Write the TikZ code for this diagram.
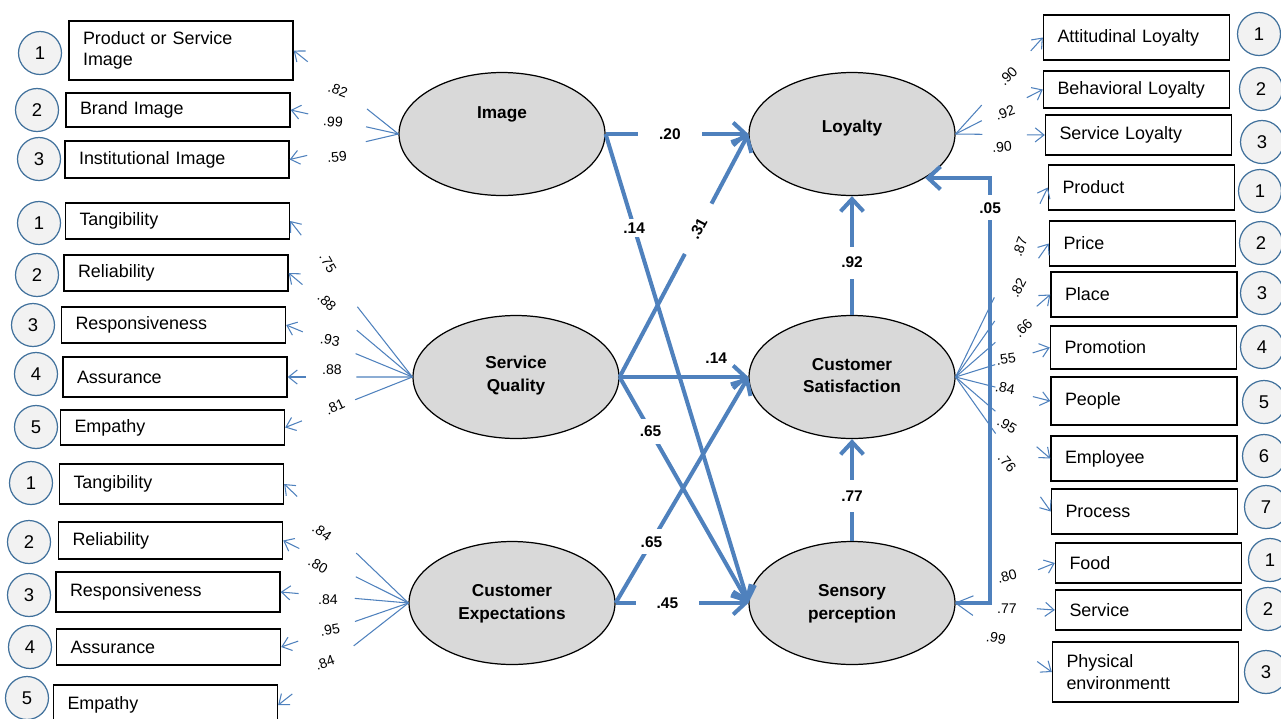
\documentclass[tikz,border=0pt]{standalone}
\usepackage{fontspec}
\setmainfont{Liberation Sans}
\usetikzlibrary{shapes.geometric,arrows.meta,calc}

\definecolor{lineblue}{HTML}{4F81BD}
\definecolor{circblue}{HTML}{41719C}
\definecolor{circgray}{HTML}{F2F2F2}
\definecolor{latgray}{HTML}{D9D9D9}

% testo dei latenti, alzato di #1
\newcommand{\latlabel}[2]{\raisebox{#1}{\begin{tabular}{@{}c@{}}#2\end{tabular}}}

\tikzset{
	lat/.style={ellipse, draw=black, fill=latgray, line width=0.7pt,
		minimum width=4.12cm, minimum height=2.46cm, align=center,
		font=\bfseries\fontsize{9.8}{13}\selectfont},
	indl/.style={draw=black, line width=0.8pt, minimum width=4.48cm,
		text width=3.92cm, inner xsep=0.28cm, align=left,
		font=\fontsize{10.2}{12.2}\selectfont},
	indr/.style={indl, minimum width=3.72cm, text width=3.16cm},
	err/.style={circle, draw=circblue, fill=circgray, line width=0.7pt,
		minimum size=0.86cm, inner sep=0pt, font=\fontsize{10.5}{12}\selectfont},
	load/.style={draw=lineblue, line width=0.6pt},
	loadarr/.style={load, -{Straight Barb[length=5pt,width=8pt]}},
	struct/.style={draw=lineblue, line width=2.3pt,
		-{Straight Barb[length=7pt,width=13pt]}},
	coef/.style={fill=white, inner sep=4pt, font=\bfseries\fontsize{8.8}{10}\selectfont},
	ld/.style={inner sep=0.5pt, font=\fontsize{8}{9}\selectfont}
}

\begin{document}
\begin{tikzpicture}[x=0.02cm,y=-0.02cm]
	\useasboundingbox (0,0) rectangle (1281,718);

	%latenti
	\node[lat] (img) at (502,134) {\latlabel{0.96cm}{Image}};
	\node[lat] (loy) at (852,134) {\latlabel{0.4cm}{Loyalty}};
	\node[lat] (sq) at (516,377) {\latlabel{0.44cm}{Service\\Quality}};
	\node[lat] (cs) at (852,377) {\latlabel{0.32cm}{Customer\\Satisfaction}};
	\node[lat] (ce) at (512,603) {\latlabel{0.08cm}{Customer\\Expectations}};
	\node[lat] (sp) at (852,603) {\latlabel{0.28cm}{Sensory\\perception}};

	%indicatori image
	\node[indl, minimum height=1.18cm] (i1) at (181,50.5) {Product or Service\\Image};
	\node[indl, minimum height=0.68cm] (i2) at (178,110) {Brand Image};
	\node[indl, minimum height=0.74cm] (i3) at (177,159.5) {Institutional Image};
	\node[err] (ci1) at (40,53) {1};
	\node[err] (ci2) at (37,110) {2};
	\node[err] (ci3) at (39,159) {3};

	%indicatori service quality
	\node[indl, minimum height=0.72cm] (s1) at (177.5,221) {Tangibility};
	\node[indl, minimum height=0.72cm] (s2) at (176,273) {Reliability};
	\node[indl, minimum height=0.72cm] (s3) at (173.5,325) {Responsiveness};
	\node[indl, minimum height=0.80cm] (s4) at (175,377) {Assurance};
	\node[indl, minimum height=0.70cm] (s5) at (172.5,427.5) {Empathy};
	\node[err] (cs1) at (39,223) {1};
	\node[err] (cs2) at (37,275) {2};
	\node[err] (cs3) at (33,325) {3};
	\node[err] (cs4) at (36,374) {4};
	\node[err] (cs5) at (36,427) {5};

	%indicatori customer expectations
	\node[indl, minimum height=0.80cm] (e1) at (171.5,484) {Tangibility};
	\node[indl, minimum height=0.74cm] (e2) at (170.5,540.5) {Reliability};
	\node[indl, minimum height=0.80cm] (e3) at (168,592) {Responsiveness};
	\node[indl, minimum height=0.72cm] (e4) at (168.5,647) {Assurance};
	\node[indl, minimum height=0.80cm] (e5) at (165.5,705) {Empathy};
	\node[err] (ce1) at (31,483) {1};
	\node[err] (ce2) at (29,542) {2};
	\node[err] (ce3) at (29,595) {3};
	\node[err] (ce4) at (30,647) {4};
	\node[err] (ce5) at (27,698) {5};

	%indicatori loyalty
	\node[indr, minimum height=0.90cm] (l1) at (1136.5,37.5) {Attitudinal Loyalty};
	\node[indr, minimum height=0.74cm] (l2) at (1136.5,89.5) {Behavioral Loyalty};
	\node[indr, minimum height=0.80cm] (l3) at (1138.5,135) {Service Loyalty};
	\node[err] (cl1) at (1259,34) {1};
	\node[err] (cl2) at (1261,89) {2};
	\node[err] (cl3) at (1262,142) {3};

	%indicatori customer satisfaction
	\node[indr, minimum height=0.90cm] (m1) at (1141.5,187.5) {Product};
	\node[indr, minimum height=0.90cm] (m2) at (1142.5,243.5) {Price};
	\node[indr, minimum height=0.90cm] (m3) at (1144,294.5) {Place};
	\node[indr, minimum height=0.86cm] (m4) at (1143.5,347.5) {Promotion};
	\node[indr, minimum height=0.96cm] (m5) at (1144,401) {People};
	\node[indr, minimum height=0.90cm] (m6) at (1144,458.5) {Employee};
	\node[indr, minimum height=0.90cm] (m7) at (1144.5,511.5) {Process};
	\node[err] (cm1) at (1260,191) {1};
	\node[err] (cm2) at (1261,243) {2};
	\node[err] (cm3) at (1262,293) {3};
	\node[err] (cm4) at (1262,347) {4};
	\node[err] (cm5) at (1264,402) {5};
	\node[err] (cm6) at (1264,456) {6};
	\node[err] (cm7) at (1266,507) {7};

	%indicatori sensory perception
	\node[indr, minimum height=0.80cm] (p1) at (1148.5,563) {Food};
	\node[indr, minimum height=0.80cm] (p2) at (1148.5,610) {Service};
	\node[indr, minimum height=1.20cm] (p3) at (1145.5,672) {Physical\\environmentt};
	\node[err] (cp1) at (1270,560) {1};
	\node[err] (cp2) at (1268,609) {2};
	\node[err] (cp3) at (1266,672) {3};

	%carichi a sinistra
	\foreach \b in {i1,i2,i3} {
		\draw[load] (img.west) -- ($(img.west)!0.3!(\b.east)$);
		\draw[loadarr] ($(\b.east)!0.36cm!(img.west)$) -- (\b.east);
	}
	\foreach \b in {s1,s2,s3,s4,s5} {
		\draw[load] (sq.west) -- ($(sq.west)!0.45!(\b.east)$);
		\draw[loadarr] ($(\b.east)!0.36cm!(sq.west)$) -- (\b.east);
	}
	\foreach \b in {e1,e2,e3,e4,e5} {
		\draw[load] (ce.west) -- ($(ce.west)!0.42!(\b.east)$);
		\draw[loadarr] ($(\b.east)!0.36cm!(ce.west)$) -- (\b.east);
	}

	%carichi a destra
	\foreach \b in {l1,l2,l3} {
		\draw[load] (loy.east) -- ($(loy.east)!0.3!(\b.west)$);
		\draw[loadarr] ($(\b.west)!0.36cm!(loy.east)$) -- (\b.west);
	}
	\foreach \b in {m1,m2,m3,m4,m5,m6,m7} {
		\draw[load] (cs.east) -- ($(cs.east)!0.42!(\b.west)$);
		\draw[loadarr] ($(\b.west)!0.36cm!(cs.east)$) -- (\b.west);
	}
	\foreach \b in {p1,p2,p3} {
		\draw[load] (sp.east) -- ($(sp.east)!0.18!(\b.west)$);
		\draw[loadarr] ($(\b.west)!0.36cm!(sp.east)$) -- (\b.west);
	}

	%valori dei carichi
	\foreach \x/\y/\r/\lbl [count=\k] in {
		338/90/-20/.82, 333/122/-5/.99, 337/157/5/.59,
		328/263/-60/.75, 327/302/-45/.88, 330/340/-10/.93, 332/370/0/.88, 335/407/25/.81,
		322/532/-35/.84, 318/565/-30/.80, 328/600/0/.84, 330/630/10/.95, 325/663/20/.84,
		1008/76/45/.90, 1005/113/20/.92, 1002/147/5/.90,
		1020/247/70/.87, 1018/288/62/.82, 1023/328/45/.66, 1006/359/8/.55,
		1005/388/-10/.84, 1007/425/-30/.95, 1007/463/-50/.76,
		1007/576/15/.80, 1007/609/0/.77, 996/638/-10/.99}
		\node[ld, rotate=\r] (ld\k) at (\x,\y) {\lbl};

	%percorsi strutturali
	\draw[struct] (img.east) -- node[coef, pos=0.45, inner xsep=12pt] (c20) {.20} (loy.west);
	\draw[struct] (img.east) -- node[coef, pos=0.2, inner sep=2pt] (c14a) {.14} (sp.west);
	\draw[struct] (sq.east) -- node[coef, pos=0.61, sloped, inner xsep=10pt, inner ysep=1pt] (c31) {.31} (loy.west);
	\draw[struct] (sq.east) -- node[pos=0.75, above=3pt, font=\bfseries\fontsize{8.8}{10}\selectfont] (c14b) {.14} (cs.west);
	\draw[struct] (sq.east) -- node[coef, pos=0.24] (c65a) {.65} (sp.west);
	\draw[struct] (ce.east) -- node[coef, pos=0.27] (c65b) {.65} (cs.west);
	\draw[struct] (ce.east) -- node[coef, pos=0.39, inner xsep=12pt] (c45) {.45} (sp.west);
	\draw[struct] (sp.north) -- node[coef, pos=0.44, inner ysep=6pt] (c77) {.77} (cs.south);
	\draw[struct] (cs.north) -- node[coef, pos=0.44, inner ysep=6pt] (c92) {.92} (loy.south);

	%percorso .05
	\coordinate (k05) at ($(loy.-31)+(65,0)$);
	\draw[struct] (sp.east) -- (k05 |- sp.east) -- node[coef, pos=0.93, inner xsep=2pt] (c05) {.05} (k05) -- (loy.-31);
\end{tikzpicture}
\end{document}
